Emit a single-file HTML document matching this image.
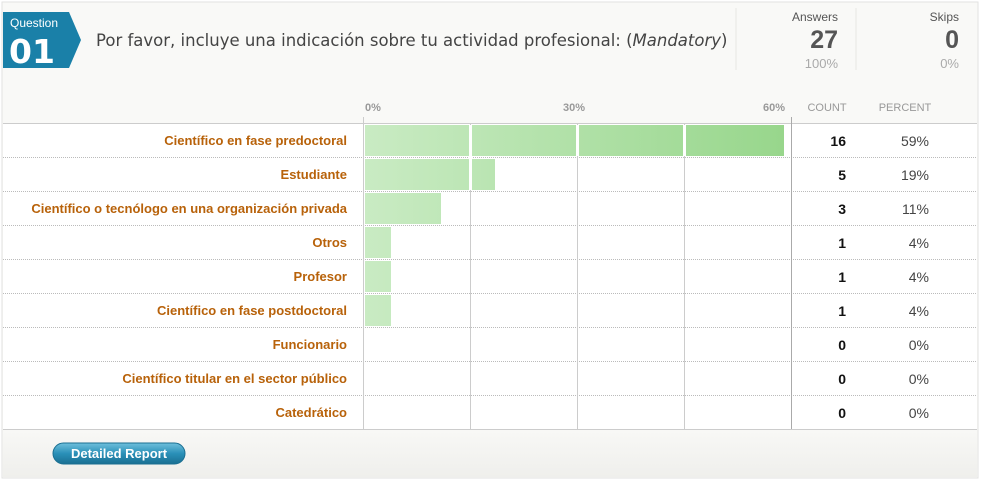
<!DOCTYPE html>
<html><head><meta charset="utf-8"><style>
html,body{margin:0;padding:0;background:#fff;width:981px;height:481px;overflow:hidden}
text{font-family:"Liberation Sans","DejaVu Sans",sans-serif}
</style></head><body>
<svg width="981" height="481" xmlns="http://www.w3.org/2000/svg">
<defs>
<linearGradient id="g" gradientUnits="userSpaceOnUse" x1="365" y1="0" x2="790" y2="0">
<stop offset="0" stop-color="#c9ebc3"/><stop offset="1" stop-color="#97d68b"/></linearGradient>
<linearGradient id="bt" x1="0" y1="0" x2="0" y2="1">
<stop offset="0" stop-color="#6fc0dc"/><stop offset="0.5" stop-color="#2a90b8"/><stop offset="1" stop-color="#1a6f92"/></linearGradient>
<linearGradient id="ft" x1="0" y1="0" x2="0" y2="1">
<stop offset="0" stop-color="#f8f8f6"/><stop offset="1" stop-color="#efefec"/></linearGradient>
</defs>
<rect x="2" y="2" width="976" height="476" fill="#f9f9f7" stroke="#e2e2e0"/>
<path d="M3 12 H69 L81 40 L69 68 H3 Z" fill="#1a80a8"/>
<text x="10" y="27" font-size="12" fill="#fff">Question</text>
<text x="9" y="63" font-size="33" font-weight="bold" fill="#fff" style="font-family:'DejaVu Sans',sans-serif">01</text>
<text x="96" y="46" font-size="16.5" fill="#444" style="font-family:'DejaVu Sans',sans-serif">Por favor, incluye una indicación sobre tu actividad profesional: (<tspan font-style="italic">Mandatory</tspan>)</text>
<line x1="736" y1="8" x2="736" y2="70" stroke="#e6e6e3"/>
<line x1="856" y1="8" x2="856" y2="70" stroke="#e6e6e3"/>
<text x="838" y="21" font-size="12" fill="#555" text-anchor="end">Answers</text>
<text x="838" y="48" font-size="25" font-weight="bold" fill="#555" text-anchor="end">27</text>
<text x="838" y="68" font-size="13" fill="#aaa" text-anchor="end">100%</text>
<text x="959" y="21" font-size="12" fill="#555" text-anchor="end">Skips</text>
<text x="959" y="48" font-size="25" font-weight="bold" fill="#555" text-anchor="end">0</text>
<text x="959" y="68" font-size="13" fill="#aaa" text-anchor="end">0%</text>
<g font-size="11" font-weight="bold" fill="#999">
<text x="365" y="111">0%</text><text x="563" y="111">30%</text><text x="763" y="111">60%</text>
<text x="827" y="111" text-anchor="middle" font-weight="normal">COUNT</text><text x="905" y="111" text-anchor="middle" font-weight="normal">PERCENT</text>
</g>
<rect x="3" y="123" width="974" height="306" fill="#fff"/>
<line x1="3" y1="123.5" x2="977" y2="123.5" stroke="#ccc"/>
<line x1="3" y1="429.5" x2="977" y2="429.5" stroke="#ccc"/>
<g stroke="#bbb" stroke-dasharray="1,1">
<line x1="3" y1="157.5" x2="977" y2="157.5"/><line x1="3" y1="191.5" x2="977" y2="191.5"/>
<line x1="3" y1="225.5" x2="977" y2="225.5"/><line x1="3" y1="259.5" x2="977" y2="259.5"/>
<line x1="3" y1="293.5" x2="977" y2="293.5"/><line x1="3" y1="327.5" x2="977" y2="327.5"/>
<line x1="3" y1="361.5" x2="977" y2="361.5"/><line x1="3" y1="395.5" x2="977" y2="395.5"/>
</g>
<g stroke="#ccc">
<line x1="363.5" y1="117" x2="363.5" y2="429"/><line x1="470.5" y1="123" x2="470.5" y2="429"/>
<line x1="577.5" y1="123" x2="577.5" y2="429"/><line x1="684.5" y1="123" x2="684.5" y2="429"/>
<line x1="791.5" y1="117" x2="791.5" y2="429" stroke="#aaa"/>
</g>
<g fill="url(#g)">
<rect x="365" y="125" width="419" height="31"/>
<rect x="365" y="159" width="130" height="31"/>
<rect x="365" y="193" width="76" height="31"/>
<rect x="365" y="227" width="26" height="31"/>
<rect x="365" y="261" width="26" height="31"/>
<rect x="365" y="295" width="26" height="31"/>
</g>
<g fill="#fff"><rect x="469" y="125" width="3" height="65"/><rect x="576" y="125" width="3" height="31"/><rect x="683" y="125" width="3" height="31"/></g>
<g font-size="13" font-weight="bold" fill="#b8620a" text-anchor="end">
<text x="347" y="145">Científico en fase predoctoral</text>
<text x="347" y="179">Estudiante</text>
<text x="347" y="213">Científico o tecnólogo en una organización privada</text>
<text x="347" y="247">Otros</text>
<text x="347" y="281">Profesor</text>
<text x="347" y="315">Científico en fase postdoctoral</text>
<text x="347" y="349">Funcionario</text>
<text x="347" y="383">Científico titular en el sector público</text>
<text x="347" y="417">Catedrático</text>
</g>
<g font-size="14" font-weight="bold" fill="#111" text-anchor="end">
<text x="846" y="146">16</text><text x="846" y="180">5</text><text x="846" y="214">3</text>
<text x="846" y="248">1</text><text x="846" y="282">1</text><text x="846" y="316">1</text>
<text x="846" y="350">0</text><text x="846" y="384">0</text><text x="846" y="418">0</text>
</g>
<g font-size="14" fill="#444" text-anchor="end">
<text x="929" y="146">59%</text><text x="929" y="180">19%</text><text x="929" y="214">11%</text>
<text x="929" y="248">4%</text><text x="929" y="282">4%</text><text x="929" y="316">4%</text>
<text x="929" y="350">0%</text><text x="929" y="384">0%</text><text x="929" y="418">0%</text>
</g>
<rect x="3" y="430" width="974" height="47" fill="url(#ft)"/>
<rect x="53" y="443" width="132" height="21" rx="10.5" fill="url(#bt)" stroke="#1a6f92"/>
<text x="119" y="458" font-size="13" font-weight="bold" fill="#fff" text-anchor="middle">Detailed Report</text>
</svg>
</body></html>
